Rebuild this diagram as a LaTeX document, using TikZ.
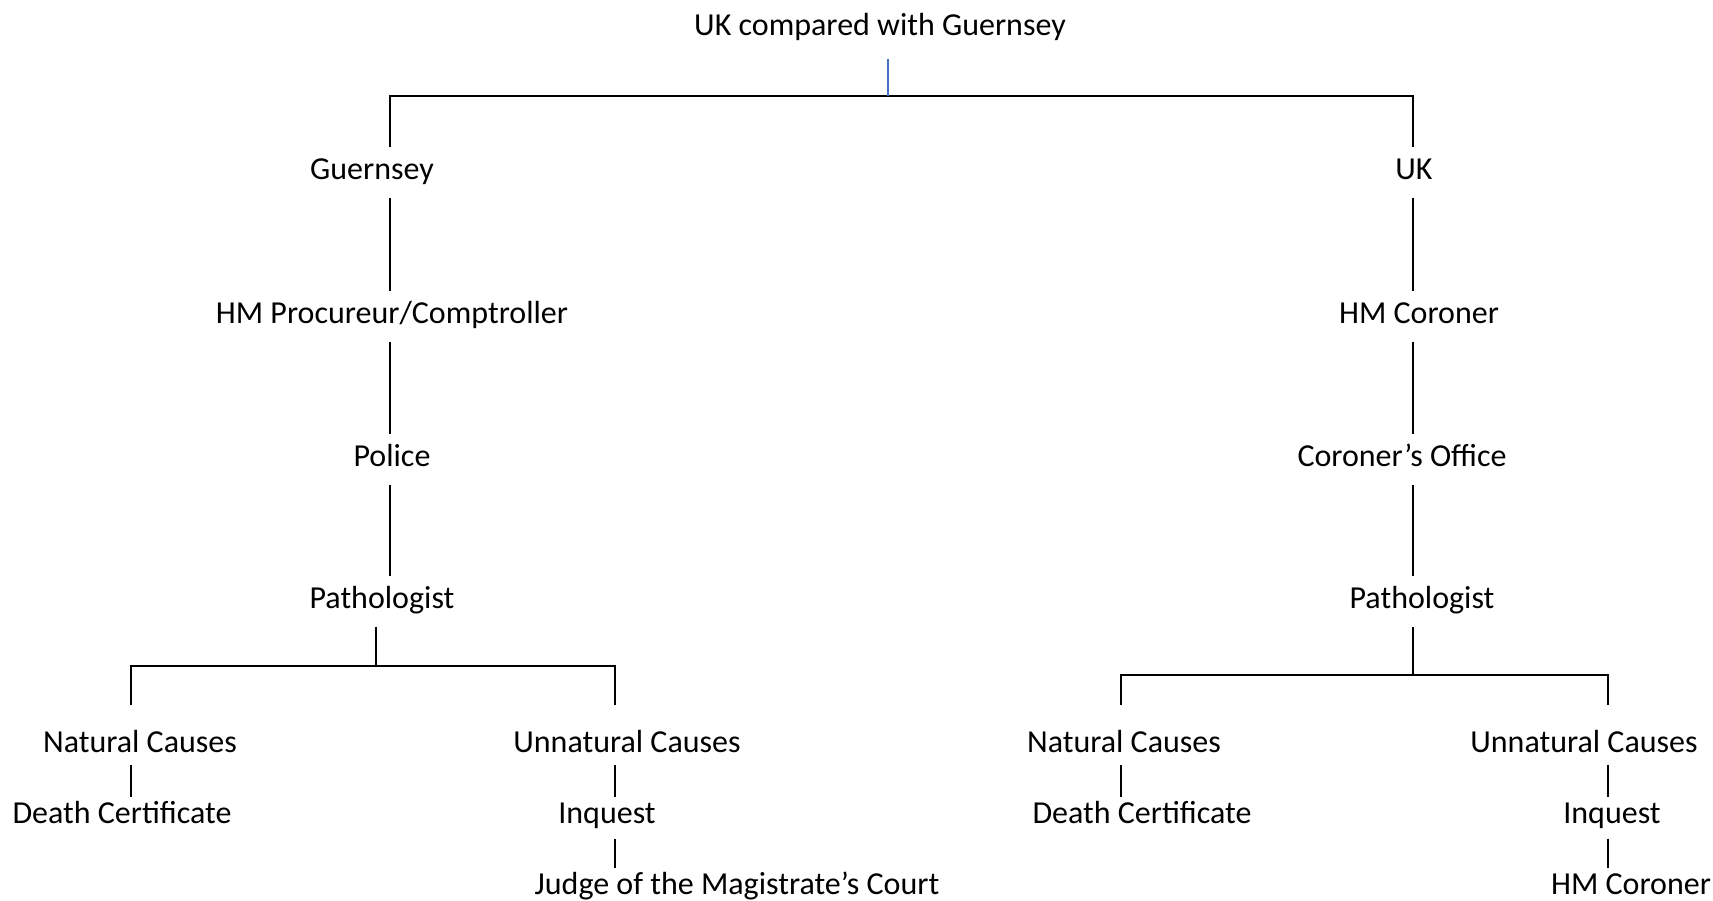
\documentclass[tikz,border=0pt]{standalone}
\usepackage{fontspec}
\setmainfont{Carlito}
\usetikzlibrary{arrows}
\definecolor{linkblue}{RGB}{68,114,196}

\begin{document}
\begin{tikzpicture}[x=1pt,y=-1pt,line width=1.3pt]
\tikzstyle{every node}=[inner sep=0pt, anchor=base, font=\fontsize{32}{38}\selectfont]
\tikzstyle{mid}=[text height=31pt, text depth=18pt]
\tikzstyle{cause}=[text height=46pt, text depth=12pt]
\tikzstyle{leaf}=[text height=25pt, text depth=15pt]
\useasboundingbox (0,0) rectangle (1713,900);
\draw (880,35) node (t) [mid, text depth=23pt] {UK compared with Guernsey};
\draw (372,179) node (g1) [mid] {Guernsey};
\draw (392,323) node (g2) [mid] {HM Procureur/Comptroller};
\draw (392,466) node (g3) [mid] {Police};
\draw (382,608) node (g4) [mid] {Pathologist};
\draw (140,752) node (g5) [cause] {Natural Causes};
\draw (627,752) node (g6) [cause] {Unnatural Causes};
\draw (122,823) node (g7) [leaf] {Death Certificate};
\draw (607,823) node (g8) [leaf] {Inquest};
\draw (737,894) node (g9) [leaf] {Judge of the Magistrate’s Court};
\draw (1414,179) node (u1) [mid] {UK};
\draw (1419,323) node (u2) [mid] {HM Coroner};
\draw (1402,466) node (u3) [mid] {Coroner’s Office};
\draw (1422,608) node (u4) [mid] {Pathologist};
\draw (1124,752) node (u5) [cause] {Natural Causes};
\draw (1584,752) node (u6) [cause] {Unnatural Causes};
\draw (1142,823) node (u7) [leaf] {Death Certificate};
\draw (1612,823) node (u8) [leaf] {Inquest};
\draw (1631,894) node (u9) [leaf] {HM Coroner};
% columns and forks
\coordinate (top) at (888,96);
\coordinate (gc) at (390,0);
\coordinate (uc) at (1413,0);
\coordinate (gf) at (376,666);
\coordinate (gn) at (131,0);
\coordinate (gu) at (615,0);
\coordinate (uf) at (1413,675);
\coordinate (un) at (1121,0);
\coordinate (uu) at (1608,0);
% top split
\draw (g1.north -| gc) |- (top) -| (u1.north -| uc);
\draw [linkblue, line width=1.4pt] (t.south -| top) -- (top);
% Guernsey
\draw (g1.south -| gc) -- (g2.north -| gc);
\draw (g2.south -| gc) -- (g3.north -| gc);
\draw (g3.south -| gc) -- (g4.north -| gc);
\draw (g4.south -| gf) -- (gf);
\draw (g5.north -| gn) |- (gf) -| (g6.north -| gu);
\draw (g5.south -| gn) -- (g7.north -| gn);
\draw (g6.south -| gu) -- (g8.north -| gu);
\draw (g8.south -| gu) -- (g9.north -| gu);
% UK
\draw (u1.south -| uc) -- (u2.north -| uc);
\draw (u2.south -| uc) -- (u3.north -| uc);
\draw (u3.south -| uc) -- (u4.north -| uc);
\draw (u4.south -| uf) -- (uf);
\draw (u5.north -| un) |- (uf) -| (u6.north -| uu);
\draw (u5.south -| un) -- (u7.north -| un);
\draw (u6.south -| uu) -- (u8.north -| uu);
\draw (u8.south -| uu) -- (u9.north -| uu);
\end{tikzpicture}
\end{document}
